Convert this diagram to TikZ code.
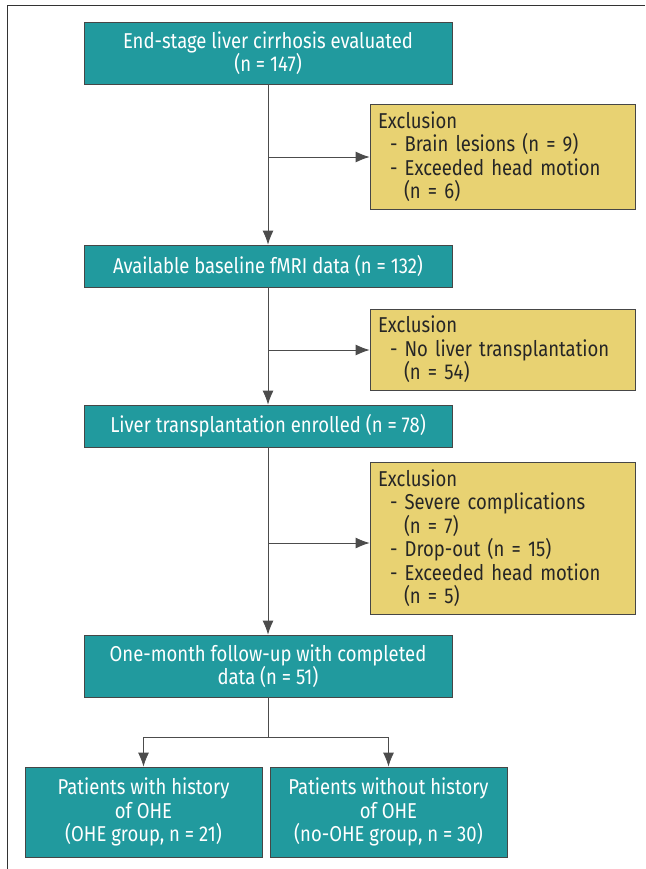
\documentclass[tikz,border=0pt]{standalone}
\usepackage{fontspec}
\setmainfont[FakeStretch=0.86]{Fira Sans}
\usetikzlibrary{arrows.meta}
\definecolor{tealbox}{RGB}{33,154,158}
\definecolor{yellowbox}{RGB}{232,210,114}
\definecolor{rimgray}{RGB}{70,70,70}
\begin{document}
\begin{tikzpicture}[x=1pt,y=-1pt,>={Latex[length=14pt,width=11pt]},font=\fontsize{21.5}{23.5}\selectfont]
        \tikzstyle{stage}=[rectangle,draw=rimgray,fill=tealbox,text=white,align=center,line width=0.8pt,inner sep=0pt,minimum width=368pt]
        \tikzstyle{exclusion}=[rectangle,draw=rimgray,fill=yellowbox,text=black!85,align=left,line width=0.8pt,inner sep=0pt,minimum width=265pt,text width=249pt]
        \tikzstyle{group}=[stage,minimum width=237pt,minimum height=90pt]
        \tikzstyle{edge}=[draw=black!70,line width=0.8pt]
        \useasboundingbox (0,0) rectangle (645,869);
        \draw[black!80,line width=1pt] (7,869) -- (7,6) -- (645,6);
       \begin{scope}
         \node [stage,minimum height=62pt] (evaluated) at (268,53) {End-stage liver cirrhosis evaluated\\(n = 147)};
         \node [stage,minimum height=42pt] (baseline) at (268,266) {Available baseline fMRI data (n = 132)};
         \node [stage,minimum height=42pt] (enrolled) at (268,426) {Liver transplantation enrolled (n = 78)};
         \node [stage,minimum height=62pt] (followup) at (268,666) {One-month follow-up with completed\\data (n = 51)};
         \node [exclusion,minimum height=105pt] (excl1) at (502.5,156.5) {Exclusion\\\hspace*{12pt}- Brain lesions (n = 9)\\\hspace*{12pt}- Exceeded head motion\\\hspace*{26pt}(n = 6)};
         \node [exclusion,minimum height=81pt] (excl2) at (502.5,349.5) {Exclusion\\\hspace*{12pt}- No liver transplantation\\\hspace*{26pt}(n = 54)};
         \node [exclusion,minimum height=152pt] (excl3) at (502.5,538) {Exclusion\\\hspace*{12pt}- Severe complications\\\hspace*{26pt}(n = 7)\\\hspace*{12pt}- Drop-out (n = 15)\\\hspace*{12pt}- Exceeded head motion\\\hspace*{26pt}(n = 5)};
         \node [group] (ohe) at (143.5,812) {Patients with history\\of OHE\\(OHE group, n = 21)};
         \node [group] (noohe) at (388.5,812) {Patients without history\\of OHE\\(no-OHE group, n = 30)};
         \coordinate (j1) at (268,157);
         \coordinate (j2) at (268,350);
         \coordinate (j3) at (268,543);
         \coordinate (split) at (268,737);
         \path[edge,->] (evaluated) -- (baseline);
         \path[edge,->] (baseline) -- (enrolled);
         \path[edge,->] (enrolled) -- (followup);
         \path[edge,->] (j1) -- (j1 -| excl1.west);
         \path[edge,->] (j2) -- (j2 -| excl2.west);
         \path[edge,->] (j3) -- (j3 -| excl3.west);
         \path[edge] (followup) -- (split);
         \path[edge,->] (split) -| (ohe);
         \path[edge,->] (split) -| (noohe);
        \end{scope}
      \end{tikzpicture}
\end{document}
